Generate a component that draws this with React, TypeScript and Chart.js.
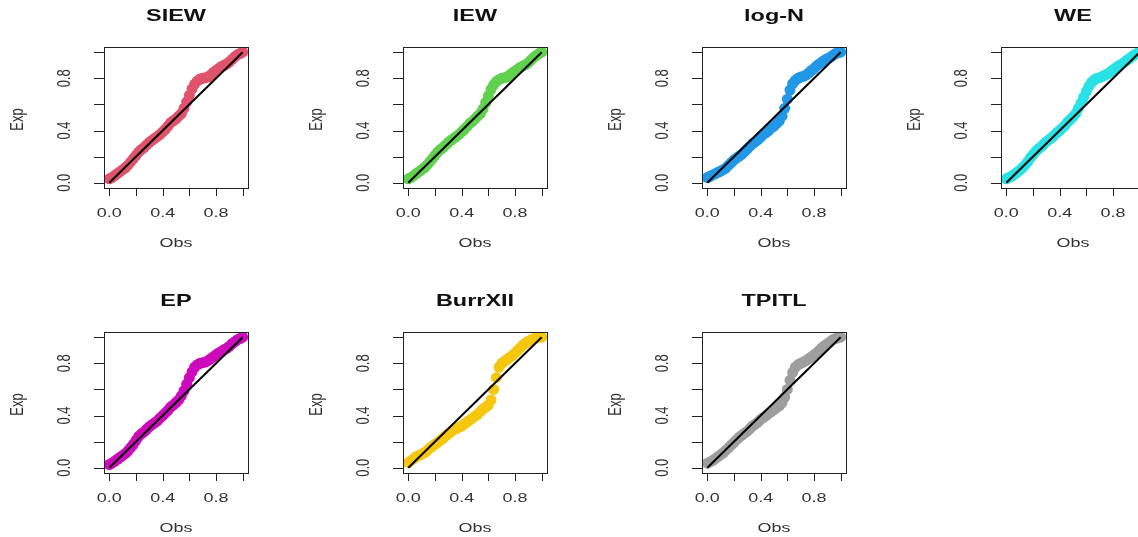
import React, { useEffect, useRef } from "react";
import { Chart, registerables } from "chart.js";

Chart.register(...registerables);

// ---------------- data ----------------
const obs = [
  0.0, 0.02, 0.04, 0.06, 0.08, 0.1, 0.12, 0.14, 0.16, 0.18,
  0.2, 0.22, 0.24, 0.26, 0.28, 0.3, 0.32, 0.34, 0.36, 0.38,
  0.4, 0.42, 0.44, 0.46, 0.48, 0.5, 0.52, 0.54, 0.56, 0.58,
  0.6, 0.62, 0.64, 0.66, 0.68, 0.7, 0.72, 0.74, 0.76, 0.78,
  0.8, 0.82, 0.84, 0.86, 0.88, 0.9, 0.92, 0.94, 0.96, 0.98, 1.0,
];

const expSIEW = [
  0.03, 0.04, 0.055, 0.07, 0.085, 0.1, 0.115, 0.135, 0.16, 0.185,
  0.21, 0.235, 0.255, 0.27, 0.29, 0.31, 0.325, 0.34, 0.355, 0.37,
  0.39, 0.41, 0.435, 0.46, 0.475, 0.49, 0.51, 0.53, 0.57, 0.62,
  0.67, 0.72, 0.755, 0.78, 0.795, 0.8, 0.805, 0.81, 0.825, 0.845,
  0.86, 0.875, 0.89, 0.9, 0.91, 0.925, 0.945, 0.965, 0.98, 0.99, 1.0,
];

const expIEW = [
  0.03, 0.04, 0.055, 0.07, 0.085, 0.1, 0.115, 0.135, 0.16, 0.185,
  0.21, 0.235, 0.255, 0.27, 0.29, 0.31, 0.325, 0.34, 0.355, 0.37,
  0.39, 0.41, 0.43, 0.455, 0.47, 0.49, 0.51, 0.53, 0.565, 0.615,
  0.665, 0.715, 0.75, 0.775, 0.79, 0.8, 0.805, 0.81, 0.825, 0.84,
  0.855, 0.87, 0.885, 0.895, 0.905, 0.92, 0.94, 0.96, 0.975, 0.99, 1.0,
];

const expLogN = [
  0.04, 0.05, 0.06, 0.07, 0.08, 0.09, 0.1, 0.115, 0.135, 0.155,
  0.175, 0.19, 0.205, 0.22, 0.24, 0.26, 0.28, 0.3, 0.315, 0.33,
  0.35, 0.37, 0.385, 0.4, 0.42, 0.435, 0.455, 0.475, 0.51, 0.57,
  0.64, 0.71, 0.76, 0.785, 0.8, 0.81, 0.815, 0.825, 0.84, 0.86,
  0.875, 0.895, 0.91, 0.925, 0.94, 0.95, 0.96, 0.975, 0.99, 0.995, 1.0,
];

const expWE = [
  0.03, 0.04, 0.05, 0.065, 0.08, 0.095, 0.115, 0.135, 0.16, 0.19,
  0.215, 0.24, 0.26, 0.275, 0.295, 0.315, 0.33, 0.345, 0.365, 0.385,
  0.4, 0.42, 0.44, 0.465, 0.485, 0.505, 0.53, 0.57, 0.61, 0.655,
  0.7, 0.74, 0.77, 0.79, 0.8, 0.805, 0.815, 0.825, 0.835, 0.85,
  0.865, 0.88, 0.895, 0.905, 0.92, 0.935, 0.95, 0.965, 0.98, 0.99, 1.0,
];

const expEP = [
  0.025, 0.035, 0.05, 0.065, 0.08, 0.095, 0.11, 0.13, 0.155, 0.18,
  0.21, 0.24, 0.26, 0.275, 0.295, 0.315, 0.33, 0.345, 0.36, 0.38,
  0.4, 0.42, 0.44, 0.465, 0.48, 0.5, 0.52, 0.55, 0.59, 0.64,
  0.69, 0.735, 0.77, 0.79, 0.8, 0.805, 0.81, 0.82, 0.835, 0.85,
  0.865, 0.88, 0.89, 0.905, 0.915, 0.93, 0.95, 0.965, 0.98, 0.99, 1.0,
];

const expBurrXII = [
  0.04, 0.055, 0.07, 0.085, 0.095, 0.105, 0.115, 0.13, 0.15, 0.165,
  0.18, 0.195, 0.21, 0.225, 0.245, 0.26, 0.275, 0.29, 0.3, 0.31,
  0.32, 0.335, 0.35, 0.365, 0.38, 0.395, 0.41, 0.43, 0.45, 0.465,
  0.48, 0.52, 0.6, 0.69, 0.77, 0.8, 0.815, 0.83, 0.845, 0.86,
  0.88, 0.9, 0.92, 0.94, 0.955, 0.97, 0.98, 0.99, 0.995, 1.0, 1.0,
];

const expTPITL = [
  0.035, 0.045, 0.055, 0.07, 0.085, 0.1, 0.115, 0.135, 0.155, 0.175,
  0.195, 0.215, 0.235, 0.25, 0.265, 0.28, 0.3, 0.32, 0.335, 0.35,
  0.37, 0.385, 0.4, 0.415, 0.43, 0.445, 0.46, 0.475, 0.5, 0.54,
  0.6, 0.67, 0.73, 0.77, 0.79, 0.8, 0.81, 0.82, 0.835, 0.85,
  0.865, 0.88, 0.9, 0.92, 0.935, 0.95, 0.965, 0.98, 0.99, 0.995, 1.0,
];

const modelNames = ["SIEW", "IEW", "log-N", "WE", "EP", "BurrXII", "TPITL"];
const modelExp = [expSIEW, expIEW, expLogN, expWE, expEP, expBurrXII, expTPITL];
const modelColors = ["#DF536B", "#61D04F", "#2297E6", "#28E2E5", "#CD0BBC", "#F5C710", "#9E9E9E"];

const refLine = [0, 1];
const tickValues = [0, 0.2, 0.4, 0.6, 0.8, 1.0];
const tickLabels = ["0.0", "", "0.4", "", "0.8", ""];
const xTitle = "Obs";
const yTitle = "Exp";

// ---------------- layout ----------------
const PANEL_W = 299;
const PANEL_H = 285;
const COLS = 4;
const STRETCH = 1.38;
const FONT = '"Liberation Sans", Arial, Helvetica, sans-serif';

function drawText(
  ctx: CanvasRenderingContext2D,
  text: string,
  x: number,
  y: number,
  font: string,
  rotate: boolean,
  color: string
) {
  ctx.save();
  ctx.translate(x, y);
  ctx.scale(STRETCH, 1);
  if (rotate) ctx.rotate(-Math.PI / 2);
  ctx.font = font;
  ctx.fillStyle = color;
  ctx.textAlign = "center";
  ctx.textBaseline = "middle";
  ctx.fillText(text, 0, 0);
  ctx.restore();
}

const rStylePlugin = {
  id: "rStyle",
  afterDraw(chart: any, _args: any, opts: any) {
    const { ctx, chartArea: a, scales } = chart;
    const xs = scales.x;
    const ys = scales.y;
    ctx.save();
    ctx.strokeStyle = "#222";
    ctx.lineWidth = 1;
    ctx.strokeRect(a.left + 0.5, a.top + 0.5, a.right - a.left, a.bottom - a.top);

    ctx.beginPath();
    tickValues.forEach((v) => {
      const px = Math.round(xs.getPixelForValue(v)) + 0.5;
      ctx.moveTo(px, a.bottom);
      ctx.lineTo(px, a.bottom + 8);
      const py = Math.round(ys.getPixelForValue(v)) + 0.5;
      ctx.moveTo(a.left, py);
      ctx.lineTo(a.left - 10, py);
    });
    ctx.stroke();
    ctx.restore();

    const labFont = `13px ${FONT}`;
    tickValues.forEach((v, i) => {
      const lab = tickLabels[i];
      if (!lab) return;
      drawText(ctx, lab, xs.getPixelForValue(v), a.bottom + 25, labFont, false, "#333");
      drawText(ctx, lab, a.left - 39, ys.getPixelForValue(v), labFont, true, "#333");
    });
    const cx = (a.left + a.right) / 2;
    const cy = (a.top + a.bottom) / 2;
    drawText(ctx, xTitle, cx, a.bottom + 55, labFont, false, "#333");
    drawText(ctx, yTitle, a.left - 86, cy + 2, labFont, true, "#333");
    drawText(ctx, opts.title, cx, a.top - 31, `bold 17px ${FONT}`, false, "#111");
  },
};

function Panel({ index }: { index: number }) {
  const ref = useRef<HTMLCanvasElement | null>(null);
  useEffect(() => {
    if (!ref.current) return;
    const exp = modelExp[index];
    const chart = new Chart(ref.current, {
      type: "scatter",
      data: {
        datasets: [
          {
            type: "line",
            data: refLine.map((v) => ({ x: v, y: v })),
            borderColor: "#000",
            borderWidth: 2,
            pointRadius: 0,
            fill: false,
            order: 0,
          } as any,
          {
            type: "scatter",
            data: obs.map((x, i) => ({ x, y: exp[i] })),
            pointRadius: 5.5,
            pointHoverRadius: 5.5,
            pointBackgroundColor: modelColors[index],
            pointBorderWidth: 0,
            borderWidth: 0,
            order: 1,
          } as any,
        ],
      },
      options: {
        animation: false,
        responsive: false,
        events: [],
        layout: { padding: { left: 104, right: 51, top: 47, bottom: 97 } },
        scales: {
          x: { type: "linear", min: -0.04, max: 1.04, display: false },
          y: { type: "linear", min: -0.04, max: 1.04, display: false },
        },
        plugins: {
          legend: { display: false },
          tooltip: { enabled: false },
          rStyle: { title: modelNames[index] },
        } as any,
      },
      plugins: [rStylePlugin as any],
    });
    return () => chart.destroy();
  }, [index]);
  const col = index % COLS;
  const row = Math.floor(index / COLS);
  return (
    <canvas
      ref={ref}
      width={PANEL_W}
      height={PANEL_H}
      style={{
        position: "absolute",
        left: col * PANEL_W,
        top: row * PANEL_H,
        width: PANEL_W,
        height: PANEL_H,
      }}
    />
  );
}

export default function App() {
  return (
    <div
      style={{
        position: "absolute",
        left: 0,
        top: 0,
        width: 1138,
        height: 537,
        overflow: "hidden",
        background: "#fff",
      }}
    >
      {modelNames.map((_, i) => (
        <Panel key={i} index={i} />
      ))}
    </div>
  );
}
